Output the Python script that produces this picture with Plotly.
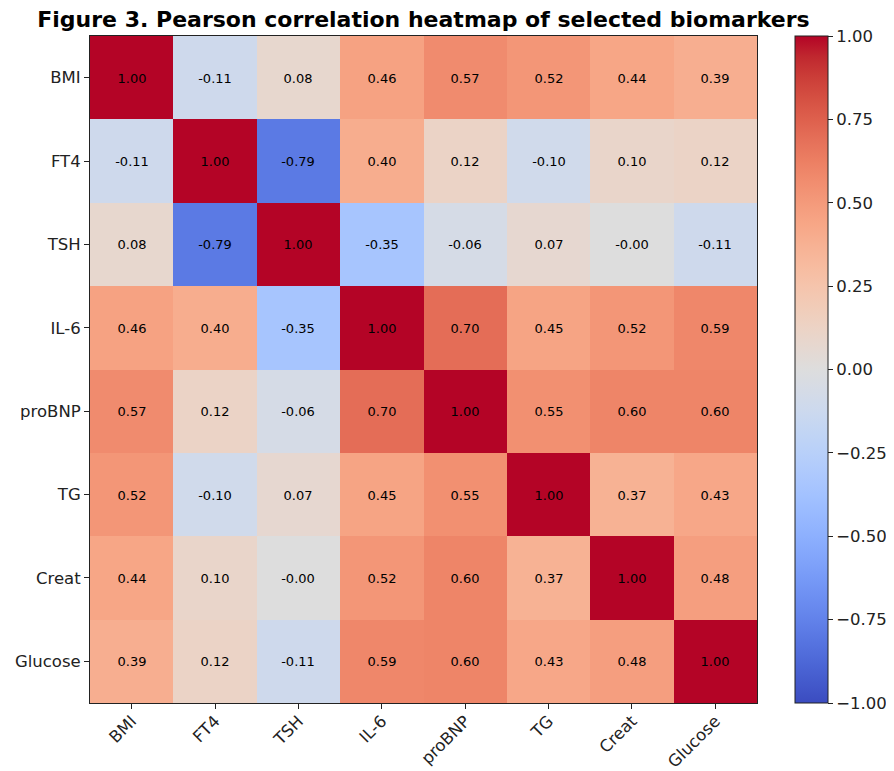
import plotly.graph_objects as go

labels = ["BMI", "FT4", "TSH", "IL-6", "proBNP", "TG", "Creat", "Glucose"]

row_bmi = [1.00, -0.11, 0.08, 0.46, 0.57, 0.52, 0.44, 0.39]
row_ft4 = [-0.11, 1.00, -0.79, 0.40, 0.12, -0.10, 0.10, 0.12]
row_tsh = [0.08, -0.79, 1.00, -0.35, -0.06, 0.07, -0.003, -0.11]
row_il6 = [0.46, 0.40, -0.35, 1.00, 0.70, 0.45, 0.52, 0.59]
row_probnp = [0.57, 0.12, -0.06, 0.70, 1.00, 0.55, 0.60, 0.60]
row_tg = [0.52, -0.10, 0.07, 0.45, 0.55, 1.00, 0.37, 0.43]
row_creat = [0.44, 0.10, -0.003, 0.52, 0.60, 0.37, 1.00, 0.48]
row_glucose = [0.39, 0.12, -0.11, 0.59, 0.60, 0.43, 0.48, 1.00]

z = [row_bmi, row_ft4, row_tsh, row_il6, row_probnp, row_tg, row_creat, row_glucose]
text = [[f"{v:.2f}" for v in row] for row in z]

cbar_vals = [-1, -0.75, -0.5, -0.25, 0, 0.25, 0.5, 0.75, 1]
cbar_text = ["\u22121.00", "\u22120.75", "\u22120.50", "\u22120.25", "0.00", "0.25", "0.50", "0.75", "1.00"]

cw = [(59,76,192),(68,90,204),(77,104,215),(87,117,225),(98,130,234),(108,142,241),
      (119,154,247),(130,165,251),(141,176,254),(152,185,255),(163,194,255),(174,201,253),
      (184,208,249),(194,213,244),(204,217,238),(213,219,230),(221,221,221),(229,216,209),
      (236,211,197),(241,204,184),(245,196,172),(247,187,159),(247,177,147),(247,166,134),
      (244,154,123),(241,141,111),(236,127,99),(229,112,89),(222,96,77),(213,80,66),
      (203,62,56),(192,40,47),(180,4,38)]
colorscale = [[i/(len(cw)-1), f"rgb{c}"] for i, c in enumerate(cw)]

# page body has an 8px margin; figure coordinates are page coordinates minus 8
OFF = 8
L, R, T, B = 90 - OFF, 757 - OFF, 36 - OFF, 703 - OFF
W, H = 894 - OFF, 771 - OFF

fig = go.Figure(go.Heatmap(
    z=z, x=labels, y=labels, text=text, texttemplate="%{text}",
    textfont=dict(family="DejaVu Sans", size=13, color="black"),
    colorscale=colorscale, zmin=-1, zmax=1, xgap=0, ygap=0,
    colorbar=dict(
        x=(795 - OFF - L)/(R-L), xanchor="left", xpad=0, ypad=0,
        y=0.5, yanchor="middle", len=1, lenmode="fraction",
        thickness=33, thicknessmode="pixels",
        outlinewidth=1, outlinecolor="#222",
        tickmode="array", tickvals=cbar_vals, ticktext=cbar_text,
        ticks="outside", ticklen=5, tickcolor="#222", tickwidth=1,
        tickfont=dict(family="DejaVu Sans", size=16.5, color="#222"),
    ),
    hoverinfo="skip",
))

fig.update_layout(
    width=W, height=H,
    margin=dict(l=L, r=W-R, t=T, b=H-B, autoexpand=False),
    paper_bgcolor="white", plot_bgcolor="white",
    font=dict(family="DejaVu Sans", color="#222"),
    title=dict(text="<b>Figure 3. Pearson correlation heatmap of selected biomarkers</b>",
               x=(L+R)/2/W, xanchor="center", y=1-(19-OFF)/H, yanchor="middle",
               font=dict(family="DejaVu Sans", size=22, color="black")),
)
fig.update_xaxes(range=[-0.5, 7.5], showline=True, mirror=True, linecolor="#222", linewidth=1,
                 ticks="outside", ticklen=5, tickcolor="#222", tickangle=-45, ticklabelstandoff=-4,
                 tickfont=dict(family="DejaVu Sans", size=16.5, color="#222"), showgrid=False, zeroline=False)
fig.update_yaxes(range=[7.5, -0.5], showline=True, mirror=True, linecolor="#222", linewidth=1,
                 ticks="outside", ticklen=5, tickcolor="#222",
                 tickfont=dict(family="DejaVu Sans", size=16.5, color="#222"), showgrid=False, zeroline=False)

fig.write_html("out.html")
